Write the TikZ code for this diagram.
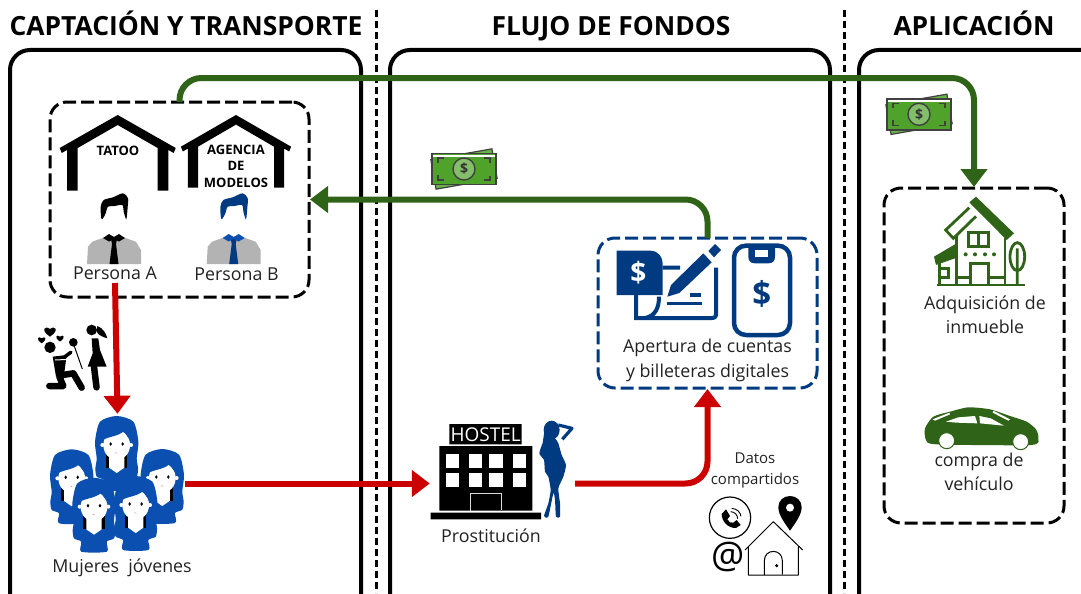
\documentclass[tikz,border=0pt]{standalone}
\usepackage{fontspec}
\setmainfont{Open Sans}
\usetikzlibrary{arrows.meta,positioning,calc}
\definecolor{verde}{HTML}{2F6318}
\definecolor{rojo}{HTML}{CC0000}
\definecolor{azul}{HTML}{003A80}
\definecolor{azulb}{HTML}{0B50B0}
\definecolor{billete}{HTML}{4FA32A}
\definecolor{gris}{HTML}{B3B3B3}
\definecolor{tinta}{HTML}{222222}
\tikzset{>={Triangle[length=18pt,width=26pt]},shorten >=1pt}
\tikzset{
    panel/.style={draw,line width=4pt,rounded corners=20pt,inner sep=0pt},
    caja/.style={draw,line width=3pt,rounded corners=17pt,dash pattern=on 13pt off 5pt,inner sep=0pt,outer sep=0pt},
    titulo/.style={font=\bfseries\fontsize{26.4}{30}\selectfont,text=black,anchor=base},
    rotulo/.style={font=\fontsize{17.8}{20}\selectfont,text=tinta},
    chico/.style={font=\fontsize{15}{16}\selectfont,text=tinta},
    marca/.style={font=\bfseries\fontsize{13}{16}\selectfont,text=black,inner sep=0pt},
    hueco/.style={inner sep=0pt,minimum width=#1},
    flecha/.style={->,line width=6pt,rounded corners=22pt},
    pics/techo/.style={code={
        \fill (0,0)--(58,33)--(56,38)--(50.7,35)--(50.7,75.7)--(40,75.7)--(40,33)--(0,10)
            --(-40,33)--(-40,75.7)--(-50.7,75.7)--(-50.7,35)--(-56,38)--(-58,33)--cycle;
    }},
    pics/hombre/.style n args={3}{code={
        \fill[#1] plot[smooth cycle,tension=.5] coordinates {(-12.7,-16.7)(-13.3,-28.3)(-10.3,-35)(-1,-37.7)(9,-41.7)
            (14,-36.7)(13.7,-28.3)(12.3,-15.7)(9.7,-23.3)(8.3,-30)(.7,-29)(-6,-28.3)(-8.3,-21.7)(-11,-16.7)};
        \fill[gris] (-27,29)--(-26,11.7)--(-21.7,6.7)--(-7.7,1.7)--(7.7,1.7)--(22,6.7)--(27,15)--(27,29)--cycle;
        \fill[#3] (-3,4)--(3,4)--(2,9)--(4.5,29)--(-4.5,29)--(-2,9)--cycle;
        \fill[#2] (-11,3)--(-5,-1)--(0,2)--(5,-1)--(11,3)--(5,6.5)--(0,4)--(-5,6.5)--cycle;
    }},
    pics/billete/.style={code={
        \filldraw[billete!85!white,draw=black!75,line width=1.2pt,rotate=10] (-31,-15) rectangle (31,15);
        \filldraw[billete,draw=black!75,line width=1.4pt] (-32,-15.5) rectangle (32,15.5);
        \fill[white] (-31,-14.5) rectangle (31,-12);
        \draw[black!75,line width=1.4pt] (-26,-6)--(-26,-11)--(-20,-11) (20,-11)--(26,-11)--(26,-6)
            (-26,6)--(-26,11)--(-20,11) (20,11)--(26,11)--(26,6);
        \filldraw[billete!70!white,draw=black!75,line width=1.4pt] (0,0) circle (11);
        \node[inner sep=0pt,text=black!80,font=\bfseries\fontsize{14}{14}\selectfont] {\$};
    }},
    pics/chica/.style={code={
        \fill[azulb] plot[smooth cycle,tension=.45] coordinates {(-38,135)(-38,105)(-60,95)(-64,70)(-60,40)(-65,-10)(-50,-70)
            (0,-87)(50,-70)(65,-10)(60,40)(64,70)(60,95)(38,105)(38,135)};
        \fill[azulb] (-38,100) rectangle (38,135);
        \fill[black] (-32,28) rectangle (32,68);
        \fill[white] (-23,25)--(23,25)--(23,68)--(0,84)--(-23,68)--cycle;
        \fill[white] (0,0) ellipse (40 and 45) (-43,0) circle (6) (43,0) circle (6);
        \fill[azulb] (-42,-14)..controls (-30,-25) and (5,-25) ..(22,-42)..controls (30,-25) and (38,-20)..(44,-10)
            ..controls (48,-40) and (30,-60)..(0,-60)..controls (-30,-60) and (-44,-40)..(-42,-14)--cycle;
        \fill[black] (-18,-3) ellipse (4 and 5.5) (18,-3) ellipse (4 and 5.5);
        \draw[red!60,line width=.5pt] (-4,23)..controls (-1,25) and (1,25)..(4,23);
    }},
    pics/pareja/.style={code={
        \fill (90,112) circle (17) (215,60) circle (16);
        \fill (98,140)--(140,135)--(132,195)--(108,200)--cycle;
        \draw[line width=6.5pt,line cap=round,line join=round] (88,228)--(130,228)--(118,200) (128,195)--(160,190)--(185,233)
            (222,170)--(230,235);
        \draw[white,line width=1pt] (105,150)--(150,148)--(155,130);
        \draw[line width=3.5pt,line cap=round] (135,140)--(155,125);
        \fill (160,97) circle (13);
        \draw[line width=1pt] (160,100)--(188,180);
        \fill (215,85)--(235,85)--(240,120)--(260,170)--(203,170)--(218,130)--cycle;
        \fill (232,48)..controls (250,55) and (258,70)..(262,85)..controls (245,80) and (235,75)..(230,65)--cycle;
        \foreach \hx/\hy/\hs in {90/65/1,65/90/.65,120/85/.65}
            \fill[shift={(\hx,\hy)},scale=\hs] (0,15)..controls (-30,-5) and (-15,-20)..(0,-8)..controls (15,-20) and (30,-5)..(0,15)--cycle;
    }},
    pics/hotel/.style={code={
        \fill (88,42) rectangle (305,103) (58,108) rectangle (337,302) (32,308) rectangle (363,328);
        \foreach \wx in {78,146,208,278}
            \foreach \wy in {133,190}
                \fill[white] (\wx,\wy) rectangle +(40,40);
        \draw[white!85!black,line width=1pt] (150,302)--(150,250)--(245,250)--(245,302);
        \node[inner sep=0pt,text=white,font=\fontsize{19}{19}\selectfont] at (197,73) {HOSTEL};
    }},
    pics/figura/.style={code={
        \fill[azul] plot[smooth cycle,tension=.35] coordinates {(372,318)(385,280)(392,240)(385,200)(375,185)(372,150)(358,130)(370,95)
            (385,80)(405,85)(415,100)(425,135)(438,165)(430,200)(415,235)(420,280)(420,320)(408,320)(405,270)(400,250)(385,320)};
        \fill[azul] (395,60) ellipse (24 and 28);
        \fill[azul] (375,50)--(368,100)--(385,85)--cycle;
        \draw[azul,line width=3.2pt,line join=round] (415,45)--(456,55)--(425,90);
    }},
    pics/datos/.style={code={
        \draw[line width=1.2pt] (930,323) circle (62);
        \fill (905,312)--(918,298)--(930,318)--(922,328)..controls (926,336) and (932,340)..(940,338)
            --(950,330)--(962,345)--(948,354)..controls (925,355) and (905,335)..(905,312)--cycle;
        \draw[line width=.9pt] (932,305)..controls (945,306) and (952,314)..(953,326) (935,295)..controls (952,296) and (962,308)..(963,322);
        \fill (1110,258)..controls (1130,258) and (1145,272)..(1145,292)..controls (1145,315) and (1125,340)..(1110,362)
            ..controls (1095,340) and (1075,315)..(1075,292)..controls (1075,272) and (1090,258)..(1110,258)--cycle;
        \fill[white] (1110,293) circle (12);
        \draw[line width=1pt,line join=round] (975,420)--(1060,335)--(1148,420) (985,410)--(985,495)--(1135,495)--(1135,410)
            (1033,495)--(1033,452)..controls (1033,415) and (1087,415)..(1087,452)--(1087,495);
        \fill (1070,467) circle (5);
    }},
    pics/cheque/.style={code={
        \fill[azul] (80,77)--(180,77)..controls (205,77) and (218,95)..(218,120)--(218,210)--(80,210)--cycle;
        \draw[azul,line width=4pt] (218,128)--(270,128) (138,210)--(138,279)--(365,279)..controls (375,279) and (378,275)..(378,265)--(378,125);
        \draw[azul,line width=4pt] (207,215)..controls (207,250) and (195,272)..(165,279);
        \draw[azul,line width=3.5pt] (232,235)--(337,235) (300,210)--(337,210);
        \draw[white,line width=14pt] (250,195)--(350,100);
        \fill[azul] (232,215)--(243,180)--(340,85)--(365,112)--(268,204)--cycle;
        \fill[azul] (355,78)--(375,57)--(393,75)--(372,97)--cycle;
        \node[inner sep=0pt,text=white,font=\bfseries\fontsize{28}{28}\selectfont] at (145,143) {\$};
        \draw[azul,line width=4.5pt,rounded corners=12pt] (432,62) rectangle (600,330);
        \fill[azul] (475,65)--(555,65)--(555,95)..controls (555,108) and (548,115)..(535,115)--(495,115)..controls (482,115) and (475,108)..(475,95)--cycle;
        \fill[white] (495,76) rectangle (535,97);
        \node[inner sep=0pt,text=azul,font=\bfseries\fontsize{33}{33}\selectfont] at (515,207) {\$};
    }},
    pics/vivienda/.style={code={
        \fill[verde] (268,352)--(288,335)--(402,445)--(380,465)--cycle;
        \fill[verde] (162,515)--(225,478)--(225,520)--(168,540)--cycle;
        \begin{scope}[verde,line width=2.8pt]
            \draw (268,368)--(197,435)--(220,460)--(290,392);
            \draw (230,450)--(230,600) (375,460)--(375,600) (170,600)--(435,600) (230,578)--(272,578) (325,578)--(375,578);
            \draw (265,443) rectangle (325,485) (295,443)--(295,485);
            \draw (272,600)--(272,535)--(325,535)--(325,600);
            \draw (178,535)--(178,600) (178,550)--(205,550)--(205,578)--(178,578);
            \draw (412,515) ellipse (22 and 42) (412,490)--(412,600);
        \end{scope}
        \foreach \dx in {257,285,315,342} \fill[verde] (\dx,508) circle (6);
    }},
    pics/coche/.style={code={
        \fill[verde] plot[smooth cycle,tension=.4] coordinates {(75,115)(100,80)(150,65)(205,52)(270,58)(330,78)(380,95)(408,118)(415,145)(392,165)
            (110,163)(78,150)};
        \fill[white] (138,95)--(175,82)--(225,78)--(232,100)--(170,98)--cycle (238,78)--(272,85)--(312,107)--(240,100)--cycle;
        \fill[white] (98,88)--(148,68)--(150,73)--(105,92)--cycle (280,62)--(330,88)--(325,92)--(278,68)--cycle;
        \filldraw[white,draw=verde,line width=1pt] (140,152) circle (24) (362,155) circle (24);
    }}
}
\begin{document}
\begin{tikzpicture}[x=1pt,y=-1pt]
\useasboundingbox (0,0) rectangle (1081,594);
\clip (0,0) rectangle (1081,594);
% paneles
\node[panel,minimum width=351pt,minimum height=590pt] (captacion) at (185.5,345) {};
\node[panel,minimum width=440pt,minimum height=590pt] (flujo) at (610,345) {};
\node[panel,minimum width=260pt,minimum height=590pt] (aplicacion) at (989,345) {};
\coordinate (sepa) at (376,10); \coordinate (sepb) at (844,10);
\draw[line width=3pt,dash pattern=on 7pt off 4pt] (sepa)--(sepa|-0,594);
\draw[line width=3pt,dash pattern=on 7pt off 4pt] (sepb)--(sepb|-0,594);
\node[titulo] (tcap) at (186,36) {CAPTACIÓN Y TRANSPORTE};
\node[titulo] (tflu) at (611,36) {FLUJO DE FONDOS};
\node[titulo] (tapl) at (974,36) {APLICACIÓN};
% cajas
\node[caja,minimum width=259pt,minimum height=195pt] (empresas) at (179.5,199.5) {};
\node[caja,draw=azul,minimum width=219pt,minimum height=150pt] (cuentas) at (707.5,313) {};
\node[caja,minimum width=180pt,minimum height=335pt] (destino) at (974,355.5) {};
% captacion
\pic at (117.7,115) {techo};
\pic[xscale=.95,yscale=.96] at (236,115) {techo};
\node[marca] (tatoo) at (118,150.5) {TATOO};
\node[marca,align=center,font=\bfseries\fontsize{13}{16.6}\selectfont] (agencia) at (236,166) {AGENCIA\\DE\\MODELOS};
\pic at (114,235) {hombre={black}{black}{black}};
\pic at (233.7,235) {hombre={azul}{azulb}{azul}};
\node[rotulo] (personaa) at (115,273) {Persona A};
\node[rotulo] (personab) at (236.5,274) {Persona B};
\pic[scale=1/3] at (20,310) {pareja};
\node[hueco=135pt,minimum height=137pt] (mujeres) at (117.5,483.5) {};
\foreach \cx/\cy in {116.7/445,71.7/478.3,162.3/478,94/506.7,135.7/505}
    \pic[scale=1/3] at (\cx,\cy) {chica};
\node[rotulo] (jovenes) at (122,568) {Mujeres\ \ jóvenes};
% flujo
\node[hueco=110pt,minimum height=95pt] (hostel) at (486,471.5) {};
\node[hueco=35pt,minimum height=100pt] (silueta) at (557.5,470) {};
\pic[scale=1/3] at (420,410) {hotel};
\pic[scale=1/3] at (420,410) {figura};
\node[rotulo] (prostitucion) at (491,536) {Prostitución};
\pic[scale=1/3] at (590,225) {cheque};
\node[rotulo,align=center,font=\fontsize{17.8}{25}\selectfont] (apertura) at (707.5,360) {Apertura de cuentas\\y billeteras digitales};
\node[chico,align=center,font=\fontsize{15}{21}\selectfont] (datos) at (755,470.5) {Datos\\compartidos};
\pic[scale=1/3] at (420,410) {datos};
\node[inner sep=0pt,font=\fontsize{37}{37}\selectfont,text=black] (arroba) at (728,557) {@};
\pic at (464,169) {billete};
% aplicacion
\pic at (919,114.3) {billete};
\pic[scale=1/3] at (880,85) {vivienda};
\node[rotulo,align=center,font=\fontsize{17.8}{24}\selectfont] (adquisicion) at (985,315) {Adquisición de\\inmueble};
\pic[scale=1/3] at (900,390) {coche};
\node[rotulo,align=center,font=\fontsize{17.8}{23.5}\selectfont] (compra) at (979,472) {compra de\\vehículo};
% flechas
\draw[flecha,verde] (empresas.north)--(empresas.north|-0,78)-|(destino.north);
\draw[flecha,verde] (cuentas.north)|-(empresas.east);
\draw[flecha,rojo] (personaa.south)--(mujeres.north);
\draw[flecha,rojo] (mujeres.east)--(mujeres.east-|hostel.west);
\draw[flecha,rojo] (mujeres.east-|silueta.east)-|(cuentas.south);
\end{tikzpicture}
\end{document}
